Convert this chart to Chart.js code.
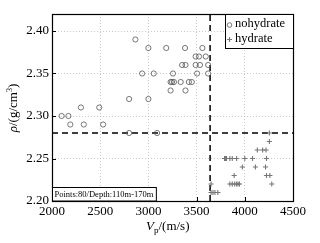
<!DOCTYPE html>
<html>
<head>
<meta charset="utf-8">
<script src="https://cdn.jsdelivr.net/npm/chart.js@4.4.1/dist/chart.umd.min.js"></script>
<style>
  html, body { margin: 0; padding: 0; background: #fff; }
  #wrap { width: 320px; height: 243px; }
</style>
</head>
<body>
<div id="wrap"><canvas id="chart" width="320" height="243"></canvas></div>
<script>
// Vp / density crossplot, 110m-170m

const noHydrateVp = [2100, 2170, 2190, 2330, 2300, 2490, 2530, 2800, 2865, 3000,
  2935, 3055, 3000, 2800, 3090, 3185, 3380, 3560, 3490, 3525,
  3595, 3350, 3385, 3490, 3535, 3620, 3255, 3505, 3620, 3230,
  3245, 3265, 3335, 3420, 3450, 3230, 3385];
const noHydrateRho = [2.30, 2.30, 2.29, 2.29, 2.31, 2.31, 2.29, 2.32, 2.39, 2.38,
  2.35, 2.35, 2.32, 2.28, 2.28, 2.38, 2.38, 2.38, 2.37, 2.37,
  2.37, 2.36, 2.36, 2.36, 2.36, 2.36, 2.35, 2.35, 2.35, 2.34,
  2.34, 2.34, 2.34, 2.34, 2.34, 2.33, 2.33];

const hydrateVp = [4255, 4255, 4130, 4185, 4220,
  3790, 3800, 3810, 3845, 3870, 3915, 4000, 4080, 4225,
  3975, 4110, 4215,
  3890, 4225, 4260,
  3650, 3845, 3870, 3895, 3915, 3930, 3945, 4280,
  3650, 3670, 3690, 3720];
const hydrateRho = [2.28, 2.27, 2.26, 2.26, 2.26,
  2.25, 2.25, 2.25, 2.25, 2.25, 2.25, 2.25, 2.25, 2.25,
  2.24, 2.24, 2.24,
  2.23, 2.23, 2.23,
  2.22, 2.22, 2.22, 2.22, 2.22, 2.22, 2.22, 2.22,
  2.21, 2.21, 2.21, 2.21];

// cut-off lines
const rhoCut = 2.28;
const vpCut = 3640;

const xTicks = [2000, 2500, 3000, 3500, 4000, 4500];
const yTicks = [2.20, 2.25, 2.30, 2.35, 2.40];
const xRange = [2000, 4500];
const yRange = [2.20, 2.42];

const SERIF = '"Liberation Serif", "DejaVu Serif", serif';
const toPoints = (xs, ys) => xs.map((x, i) => ({ x: x, y: ys[i] }));

// frame, inward ticks, titles, legend and note box
const decorPlugin = {
  id: 'decor',
  afterDatasetsDraw(chart) {
    const { ctx, chartArea: a, scales } = chart;
    ctx.save();
    ctx.strokeStyle = '#000';
    ctx.lineWidth = 1;
    ctx.setLineDash([]);

    // inward tick marks
    ctx.beginPath();
    xTicks.forEach(v => {
      const px = Math.round(scales.x.getPixelForValue(v)) + 0.5;
      ctx.moveTo(px, a.bottom); ctx.lineTo(px, a.bottom - 4);
    });
    yTicks.forEach(v => {
      const py = Math.round(scales.y.getPixelForValue(v)) + 0.5;
      ctx.moveTo(a.left, py); ctx.lineTo(a.left + 4, py);
    });
    ctx.stroke();

    // frame
    ctx.lineWidth = 1.2;
    ctx.strokeRect(Math.round(a.left) + 0.5, Math.round(a.top) + 0.5,
      Math.round(a.right - a.left), Math.round(a.bottom - a.top));

    // legend
    const lx = 225, ly = a.top, lw = a.right - 225, lh = 34;
    ctx.fillStyle = '#fff';
    ctx.fillRect(lx, ly, lw, lh);
    ctx.lineWidth = 1;
    ctx.strokeRect(lx + 0.5, ly + 0.5, lw, lh);
    ctx.fillStyle = '#000';
    ctx.font = '12.5px ' + SERIF;
    ctx.textBaseline = 'middle';
    ctx.textAlign = 'left';
    ctx.fillText('nohydrate', 235, ly + 10);
    ctx.fillText('hydrate', 235, ly + 25);
    ctx.strokeStyle = '#555';
    ctx.lineWidth = 0.8;
    ctx.beginPath(); ctx.arc(229.5, ly + 11, 2.3, 0, Math.PI * 2); ctx.stroke();
    ctx.strokeStyle = '#777';
    ctx.lineWidth = 1.1;
    ctx.beginPath();
    ctx.moveTo(227, ly + 25.5); ctx.lineTo(232, ly + 25.5);
    ctx.moveTo(229.5, ly + 23); ctx.lineTo(229.5, ly + 28);
    ctx.stroke();

    // note box
    ctx.font = '8.5px ' + SERIF;
    const note = 'Points:80/Depth:110m-170m';
    const nw = ctx.measureText(note).width + 5;
    ctx.fillStyle = '#fff';
    ctx.fillRect(a.left, a.bottom - 13, nw, 13);
    ctx.strokeStyle = '#000';
    ctx.lineWidth = 1;
    ctx.strokeRect(Math.round(a.left) + 0.5, a.bottom - 13.5, nw, 13.5);
    ctx.fillStyle = '#000';
    ctx.fillText(note, a.left + 2.5, a.bottom - 6.5);

    // x title: Vp/(m/s)
    ctx.textBaseline = 'alphabetic';
    let x = 146, y = 230;
    ctx.font = 'italic 13px ' + SERIF;
    ctx.fillText('V', x, y); x += ctx.measureText('V').width;
    ctx.font = '9px ' + SERIF;
    ctx.fillText('p', x, y + 3); x += ctx.measureText('p').width;
    ctx.font = '13px ' + SERIF;
    ctx.fillText('/(m/s)', x, y);

    // y title: rho/(g/cm3)
    ctx.translate(17, 108);
    ctx.rotate(-Math.PI / 2);
    const parts = [
      { t: '\u03c1', f: 'italic 13px ', dy: 0 },
      { t: '/(g/cm', f: '13px ', dy: 0 },
      { t: '3', f: '8px ', dy: -5 },
      { t: ')', f: '13px ', dy: 0 }
    ];
    let total = 0;
    parts.forEach(p => { ctx.font = p.f + SERIF; total += ctx.measureText(p.t).width; });
    let px = -total / 2;
    parts.forEach(p => {
      ctx.font = p.f + SERIF;
      ctx.fillText(p.t, px, p.dy);
      px += ctx.measureText(p.t).width;
    });
    ctx.restore();
  }
};

new Chart(document.getElementById('chart'), {
  type: 'scatter',
  data: {
    datasets: [
      {
        label: 'nohydrate',
        data: toPoints(noHydrateVp, noHydrateRho),
        pointStyle: 'circle',
        pointRadius: 2.6,
        backgroundColor: 'rgba(0,0,0,0)',
        borderColor: '#555',
        borderWidth: 0.8
      },
      {
        label: 'hydrate',
        data: toPoints(hydrateVp, hydrateRho),
        pointStyle: 'cross',
        pointRadius: 2.6,
        borderColor: '#777',
        borderWidth: 1.1
      },
      {
        label: 'rho cut',
        type: 'line',
        data: toPoints(xRange, [rhoCut, rhoCut]),
        borderColor: '#000',
        borderWidth: 1.5,
        borderDash: [6, 4],
        pointRadius: 0
      },
      {
        label: 'vp cut',
        type: 'line',
        data: toPoints([vpCut, vpCut], yRange),
        borderColor: '#000',
        borderWidth: 1.5,
        borderDash: [6, 4],
        pointRadius: 0
      }
    ]
  },
  options: {
    responsive: false,
    animation: false,
    layout: { padding: { left: 0, right: 27, top: 14, bottom: 0 } },
    plugins: { legend: { display: false }, tooltip: { enabled: false } },
    scales: {
      x: {
        type: 'linear',
        min: xRange[0], max: xRange[1],
        afterBuildTicks: s => { s.ticks = xTicks.map(v => ({ value: v })); },
        afterFit: s => { s.height = 42; },
        grid: { color: '#bbb', lineWidth: 0.8, drawTicks: false },
        border: { display: false, dash: [1, 2] },
        ticks: { color: '#000', font: { family: SERIF, size: 13 }, padding: 3, maxRotation: 0,
          callback: v => String(v) }
      },
      y: {
        type: 'linear',
        min: yRange[0], max: yRange[1],
        afterBuildTicks: s => { s.ticks = yTicks.map(v => ({ value: v })); },
        afterFit: s => { s.width = 52; },
        grid: { color: '#bbb', lineWidth: 0.8, drawTicks: false },
        border: { display: false, dash: [1, 2] },
        ticks: { color: '#000', font: { family: SERIF, size: 13 }, padding: 3,
          callback: v => v.toFixed(2) }
      }
    }
  },
  plugins: [decorPlugin]
});
</script>
</body>
</html>
